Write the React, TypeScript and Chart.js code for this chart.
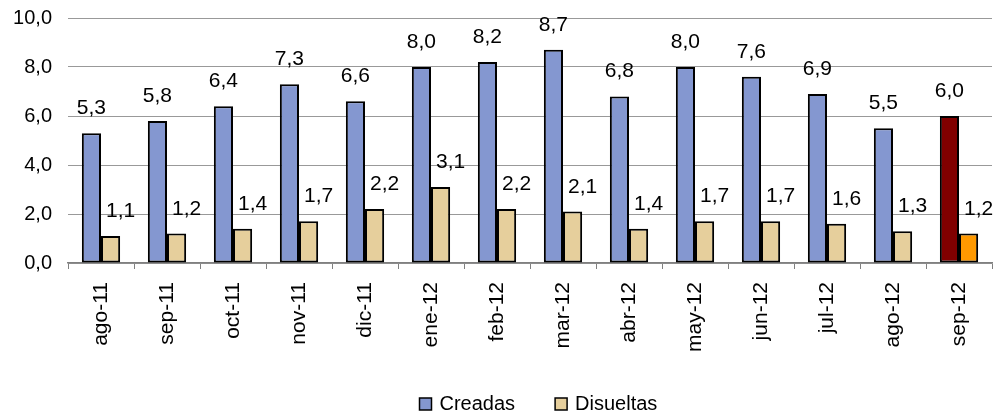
import React, { useEffect, useRef } from "react";
import { Chart, registerables } from "chart.js";

Chart.register(...registerables);

const categories = ["ago-11", "sep-11", "oct-11", "nov-11", "dic-11", "ene-12", "feb-12", "mar-12", "abr-12", "may-12", "jun-12", "jul-12", "ago-12", "sep-12"];
const creadas = [5.3, 5.8, 6.4, 7.3, 6.6, 8.0, 8.2, 8.7, 6.8, 8.0, 7.6, 6.9, 5.5, 6.0];
const disueltas = [1.1, 1.2, 1.4, 1.7, 2.2, 3.1, 2.2, 2.1, 1.4, 1.7, 1.7, 1.6, 1.3, 1.2];
const yTicks = [0, 2, 4, 6, 8, 10];
const seriesNames = ["Creadas", "Disueltas"];
const seriesColors = ["#8497D0", "#E6CF9C"];
const highlightColors = ["#800000", "#FF9900"];

const FONT = "'Liberation Sans', Arial, sans-serif";
const fmt = (v: number) => v.toFixed(1).replace(".", ",");

const labelPlugin = {
  id: "barLabels",
  afterDatasetsDraw(chart: any) {
    const ctx = chart.ctx;
    ctx.save();
    ctx.font = `21px ${FONT}`;
    ctx.fillStyle = "#000";
    ctx.textAlign = "center";
    ctx.textBaseline = "alphabetic";
    chart.data.datasets.forEach((ds: any, di: number) => {
      const meta = chart.getDatasetMeta(di);
      meta.data.forEach((bar: any, i: number) => {
        const dx = di === 1 ? 10 : 0;
        ctx.fillText(fmt(ds.data[i]), bar.x + dx, bar.y - 19);
      });
    });
    ctx.restore();
  },
};

const legendPlugin = {
  id: "customLegend",
  afterDraw(chart: any) {
    const ctx = chart.ctx;
    ctx.save();
    ctx.font = `20px ${FONT}`;
    ctx.textBaseline = "alphabetic";
    ctx.textAlign = "left";
    const area = chart.chartArea;
    const gap = 40;
    const boxSize = 12;
    const textGap = 8;
    const widths = seriesNames.map((n) => boxSize + textGap + ctx.measureText(n).width);
    const total = widths.reduce((a, b) => a + b, 0) + gap;
    const center = (area.left + area.right) / 2 + 8;
    let x = Math.round(center - total / 2) + 0.5;
    const baseline = 410;
    seriesNames.forEach((name, i) => {
      ctx.fillStyle = seriesColors[i];
      ctx.fillRect(x, baseline - 12, boxSize, boxSize);
      ctx.strokeStyle = "#000";
      ctx.lineWidth = 1.5;
      ctx.strokeRect(x, baseline - 12, boxSize, boxSize);
      ctx.fillStyle = "#000";
      ctx.fillText(name, x + boxSize + textGap, baseline);
      x += widths[i] + gap;
    });
    ctx.restore();
  },
};

export default function App() {
  const ref = useRef<HTMLCanvasElement>(null);
  useEffect(() => {
    const last = categories.length - 1;
    const chart = new Chart(ref.current!, {
      type: "bar",
      data: {
        labels: categories,
        datasets: [
          {
            label: seriesNames[0],
            data: creadas,
            backgroundColor: (c: any) => (c.dataIndex === last ? highlightColors[0] : seriesColors[0]),
            borderColor: "#000",
            borderWidth: 2,
            borderSkipped: false,
          },
          {
            label: seriesNames[1],
            data: disueltas,
            backgroundColor: (c: any) => (c.dataIndex === last ? highlightColors[1] : seriesColors[1]),
            borderColor: "#000",
            borderWidth: 2,
            borderSkipped: false,
          },
        ],
      },
      options: {
        animation: false,
        responsive: true,
        maintainAspectRatio: false,
        layout: { padding: { left: 11, right: 4, top: 18, bottom: 0 } },
        datasets: { bar: { barPercentage: 1, categoryPercentage: 0.58 } },
        scales: {
          x: {
            afterFit: (scale: any) => {
              scale.height = 151;
              scale.paddingLeft = 0;
              scale.paddingRight = 0;
            },
            grid: { display: true, drawOnChartArea: false, drawTicks: true, tickLength: 6, color: "#808080", offset: true },
            border: { display: true, color: "#808080", width: 1.5 },
            ticks: { color: "#000", font: { size: 21, family: FONT }, minRotation: 90, maxRotation: 90, padding: 13, autoSkip: false },
          },
          y: {
            min: 0,
            max: 10,
            afterFit: (scale: any) => {
              scale.width = 57;
              scale.paddingTop = 0;
              scale.paddingBottom = 0;
            },
            afterBuildTicks: (axis: any) => {
              axis.ticks = yTicks.map((v) => ({ value: v }));
            },
            grid: { color: "#999", drawTicks: false, lineWidth: 1 },
            border: { display: false },
            ticks: { color: "#000", font: { size: 20, family: FONT }, padding: 16, callback: (v: any) => fmt(Number(v)) },
          },
        },
        plugins: {
          legend: { display: false },
          tooltip: { enabled: false },
        },
      },
      plugins: [labelPlugin, legendPlugin],
    });
    return () => chart.destroy();
  }, []);
  return (
    <div style={{ position: "fixed", left: 0, top: 0, width: 996, height: 414, background: "#fff" }}>
      <canvas ref={ref} />
    </div>
  );
}
